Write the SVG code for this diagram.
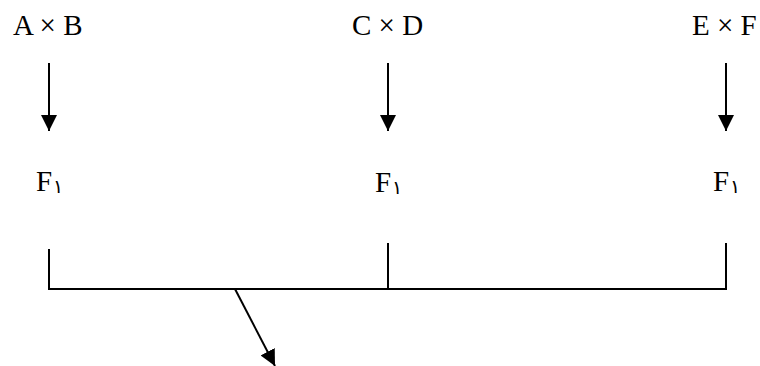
<svg xmlns="http://www.w3.org/2000/svg" width="760" height="366" viewBox="0 0 760 366">
<style>
.t{font-family:"Liberation Serif","Times New Roman",serif;font-size:29px;fill:#000}
.s{font-family:"DejaVu Sans","Noto Sans",sans-serif;font-size:19px;fill:#000}
.ln{stroke:#000;stroke-width:2;fill:none}
</style>
<defs>
<marker id="ah" viewBox="0 0 16 16" refX="16" refY="8" markerWidth="16" markerHeight="16" markerUnits="userSpaceOnUse" orient="auto">
<path d="M0,0 L16,8 L0,16 Z" fill="#000"/>
</marker>
</defs>
<g id="node-ab"><text class="t" x="13" y="35">A × B</text></g>
<g id="node-cd"><text class="t" x="352" y="35">C × D</text></g>
<g id="node-ef"><text class="t" x="692" y="35">E × F</text></g>
<g id="node-f1a"><text class="t" x="36" y="191">F</text><text class="s" x="53" y="193">۱</text></g>
<g id="node-f1b"><text class="t" x="375" y="192">F</text><text class="s" x="392" y="194">۱</text></g>
<g id="node-f1c"><text class="t" x="713" y="191">F</text><text class="s" x="730" y="193">۱</text></g>
<g id="connectors">
<line class="ln" x1="49" y1="63" x2="49" y2="131" marker-end="url(#ah)"/>
<line class="ln" x1="388" y1="63" x2="388" y2="131" marker-end="url(#ah)"/>
<line class="ln" x1="726" y1="63" x2="726" y2="131" marker-end="url(#ah)"/>
<polyline class="ln" points="49,249 49,289 726,289 726,243"/>
<line class="ln" x1="388" y1="243" x2="388" y2="289"/>
<line class="ln" x1="235" y1="289" x2="275" y2="366" marker-end="url(#ah)"/>
</g>
</svg>
